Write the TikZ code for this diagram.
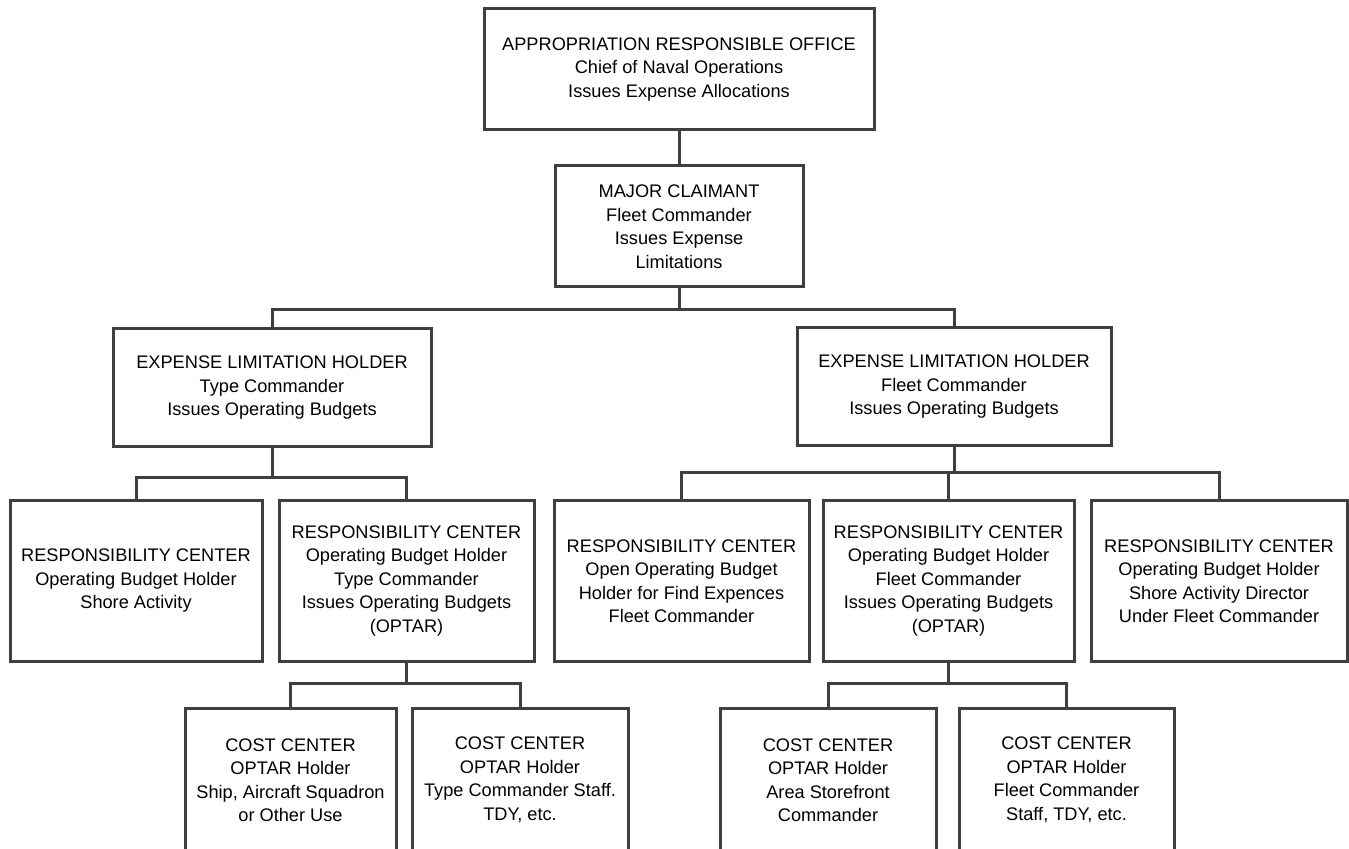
\documentclass[tikz,border=0pt]{standalone}
\usepackage{fontspec}
\setmainfont{Liberation Sans}
\usetikzlibrary{positioning}
\definecolor{boxgray}{HTML}{3F3F3F}

\begin{document}
\begin{tikzpicture}[
        x=0.5pt, y=0.5pt,
        box/.style={draw=boxgray, line width=1.5pt, rectangle, align=center, inner sep=2pt,
            font=\fontsize{9.1}{11.75}\selectfont},
        rcbox/.style={box, minimum height=80pt},
        ccbox/.style={box, minimum height=72pt},
        link/.style={draw=boxgray, line width=1.5pt}
    ]
        % Frame
        \useasboundingbox (0,0) rectangle (1349,-849);
        \clip (0,0) rectangle (1349,-849);
        \fill[white] (0,0) rectangle (1349,-849);

        % Upper levels
        \node[box, minimum width=195pt, minimum height=60.5pt] (aro) at (679,-69.5)
            {APPROPRIATION RESPONSIBLE OFFICE\\Chief of Naval Operations\\Issues Expense Allocations};
        \node[box, minimum width=124pt, minimum height=60.5pt, below=16.5pt of aro] (mc)
            {MAJOR CLAIMANT\\Fleet Commander\\Issues Expense\\Limitations};
        \node[box, minimum width=159pt, minimum height=59pt] (elhL) at (272,-388)
            {EXPENSE LIMITATION HOLDER\\Type Commander\\Issues Operating Budgets};
        \node[box, minimum width=157pt, minimum height=59pt] (elhR) at (954,-387)
            {EXPENSE LIMITATION HOLDER\\Fleet Commander\\Issues Operating Budgets};

        % Responsibility centers
        \node[rcbox, minimum width=126pt] (rc1) at (136,-581)
            {RESPONSIBILITY CENTER\\Operating Budget Holder\\Shore Activity};
        \node[rcbox, minimum width=127.5pt, right=7pt of rc1] (rc2)
            {RESPONSIBILITY CENTER\\Operating Budget Holder\\Type Commander\\Issues Operating Budgets\\(OPTAR)};
        \node[rcbox, minimum width=127.5pt, right=8.5pt of rc2] (rc3)
            {RESPONSIBILITY CENTER\\Open Operating Budget\\Holder for Find Expences\\Fleet Commander};
        \node[rcbox, minimum width=125.5pt, right=5.5pt of rc3] (rc4)
            {RESPONSIBILITY CENTER\\Operating Budget Holder\\Fleet Commander\\Issues Operating Budgets\\(OPTAR)};
        \node[rcbox, minimum width=128pt, right=7pt of rc4] (rc5)
            {RESPONSIBILITY CENTER\\Operating Budget Holder\\Shore Activity Director\\Under Fleet Commander};

        % Cost centers
        \node[ccbox, minimum width=105.5pt] (cc1) at (290.5,-780)
            {COST CENTER\\OPTAR Holder\\Ship, Aircraft Squadron\\or Other Use};
        \node[ccbox, minimum width=108pt, right=6.5pt of cc1] (cc2)
            {COST CENTER\\OPTAR Holder\\Type Commander Staff.\\TDY, etc.};
        \node[ccbox, minimum width=108pt] (cc3) at (828,-780)
            {COST CENTER\\OPTAR Holder\\Area Storefront\\Commander};
        \node[ccbox, minimum width=107.5pt, right=10pt of cc3] (cc4)
            {COST CENTER\\OPTAR Holder\\Fleet Commander\\Staff, TDY, etc.};

        % Links
        \draw[link] (aro.south) -- (aro.south |- mc.north);
        \draw[link] (mc.south) -- ++(0,-21) -| (elhL.north);
        \draw[link] (mc.south) -- ++(0,-21) -| (elhR.north);
        \draw[link] (elhL.south) -- ++(0,-29) -| (rc1.north);
        \draw[link] (elhL.south) -- ++(0,-29) -| (rc2.north);
        \draw[link] (elhR.south) -- ++(0,-25) -| (rc3.north);
        \draw[link] (elhR.south) -- ++(0,-25) -| (rc4.north);
        \draw[link] (elhR.south) -- ++(0,-25) -| (rc5.north);
        \draw[link] (rc2.south) -- ++(0,-21) -| (cc1.north);
        \draw[link] (rc2.south) -- ++(0,-21) -| (cc2.north);
        \draw[link] (rc4.south) -- ++(0,-21) -| (cc3.north);
        \draw[link] (rc4.south) -- ++(0,-21) -| (cc4.north);
    \end{tikzpicture}
\end{document}
